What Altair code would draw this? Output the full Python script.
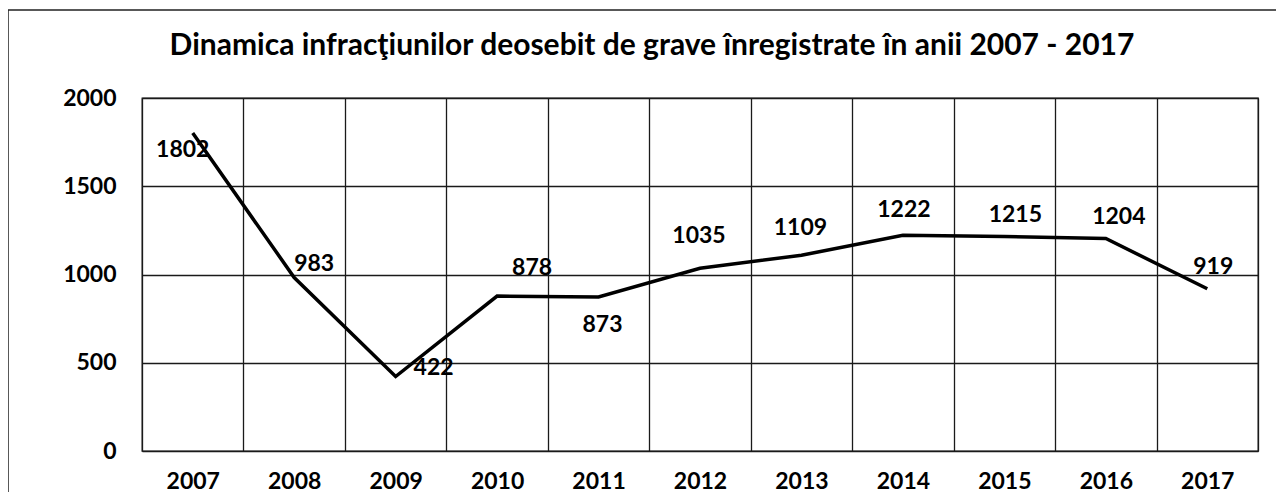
import altair as alt
import pandas as pd

# ---- data ----
years = ["2007", "2008", "2009", "2010", "2011", "2012", "2013", "2014", "2015", "2016", "2017"]
values = [1802, 983, 422, 878, 873, 1035, 1109, 1222, 1215, 1204, 919]
y_ticks = [0, 500, 1000, 1500, 2000]
title_text = "Dinamica infracţiunilor deosebit de grave înregistrate în anii  2007 - 2017"

# ---- label placement (style) ----
label_offsets = {
    "2007": (-10, 17), "2008": (20, -14), "2009": (38, -9), "2010": (35, -28),
    "2011": (4, 28), "2012": (-1, -32), "2013": (-1, -27), "2014": (1, -25),
    "2015": (11, -22), "2016": (13, -21), "2017": (6, -22),
}

FONT = "Lato"
df = pd.DataFrame({"year": years, "value": values})

x_enc = alt.X(
    "year:N", sort=years, bandPosition=0.5,
    scale=alt.Scale(type="band", paddingInner=0, paddingOuter=0),
    axis=alt.Axis(title=None, tickBand="extent", grid=True, gridColor="#1a1a1a",
                  gridWidth=1.3, ticks=False, tickSize=0, domain=False, labelAngle=0,
                  labelFont=FONT, labelFontWeight="bold", labelFontSize=23,
                  labelPadding=19, labelColor="black"),
)
y_enc = alt.Y(
    "value:Q", scale=alt.Scale(domain=[0, 2000], nice=False, zero=True),
    axis=alt.Axis(title=None, values=y_ticks, format="d", grid=True, gridColor="#1a1a1a",
                  gridWidth=1.3, ticks=False, tickSize=0, domain=False,
                  labelFont=FONT, labelFontWeight="bold", labelFontSize=23,
                  labelPadding=26, labelColor="black"),
)

base = alt.Chart(df).encode(x=x_enc, y=y_enc)

line = base.mark_line(color="black", strokeWidth=3.5)

texts = []
for yr in years:
    dx, dy = label_offsets[yr]
    texts.append(
        base.transform_filter(alt.datum.year == yr).mark_text(
            dx=dx, dy=dy, font=FONT, fontWeight="bold", fontSize=23, color="black",
            align="center", baseline="middle"
        ).encode(text="value:Q")
    )

one = pd.DataFrame({"t": [title_text]})

frame = alt.Chart(one).mark_rect(
    fillOpacity=0, stroke="#222", strokeWidth=1.5, clip=False
).encode(x=alt.value(-134), x2=alt.value(1300), y=alt.value(-88), y2=alt.value(600))

title = alt.Chart(one).mark_text(
    font=FONT, fontSize=30, fontWeight="bold", color="black",
    align="center", baseline="alphabetic", clip=False
).encode(text="t:N", x=alt.value(510), y=alt.value(-43))

chart = alt.layer(frame, title, line, *texts).properties(
    width=1116, height=353,
    autosize=alt.AutoSizeParams(type="none"),
    padding={"left": 134, "top": 90, "right": 18, "bottom": 50},
    background="white",
).configure_view(stroke="#1a1a1a", strokeWidth=1.3)

chart.save("out.html", embed_options={"renderer": "svg", "actions": False})
